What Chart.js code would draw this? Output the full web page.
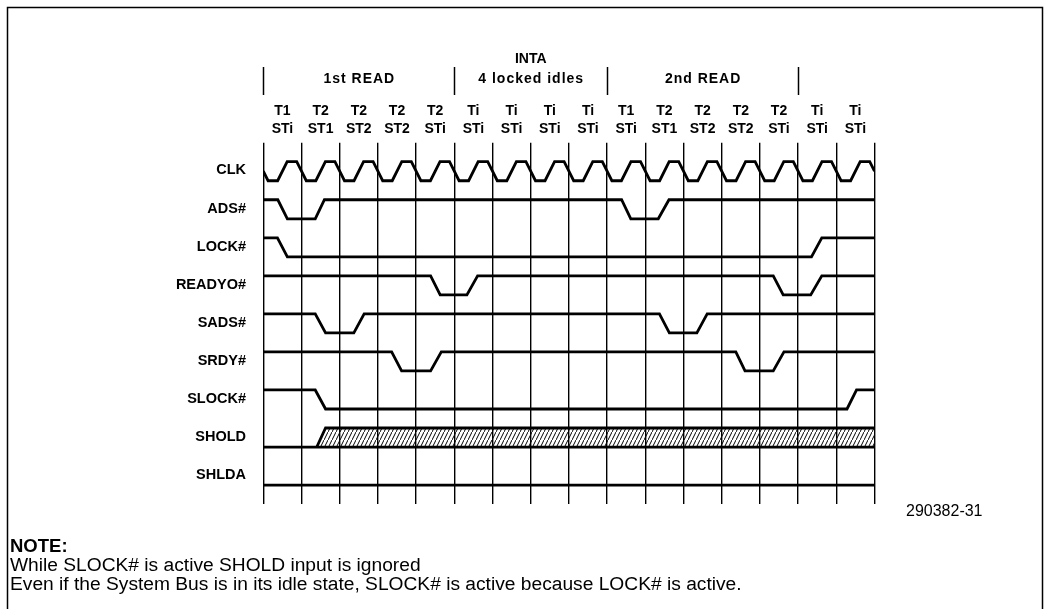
<!DOCTYPE html>
<html lang="en">
<head>
<meta charset="utf-8">
<title>SLOCK# timing</title>
<script src="https://cdn.jsdelivr.net/npm/chart.js"></script>
<style>
	body{ margin:0; background:#fff; }
	#wave{ display:block; }
</style>
</head>
<body>
<canvas id="wave" width="1044" height="609"></canvas>
<script>
// bus cycles along the top
const cycles = 16;
const cycleT  = ['T1','T2','T2','T2','T2','Ti','Ti','Ti','Ti','T1','T2','T2','T2','T2','Ti','Ti'];
const cycleST = ['STi','ST1','ST2','ST2','STi','STi','STi','STi','STi','STi','ST1','ST2','ST2','STi','STi','STi'];
const sectionNames = ['1st READ','4 locked idles','2nd READ'];
const sectionBounds = [0, 5, 9, 14];
const signalNames = ['CLK','ADS#','LOCK#','READYO#','SADS#','SRDY#','SLOCK#','SHOLD','SHLDA'];

// waveforms: [time in cycles, level 0/1]
const clkShape   = [[0,0.5],[0.125,0],[0.375,0],[0.625,1],[0.875,1]];
const adsWave    = [[0,1],[0.38,1],[0.63,0],[1.36,0],[1.6,1],[9.38,1],[9.62,0],[10.34,0],[10.62,1],[16,1]];
const lockWave   = [[0,1],[0.37,1],[0.63,0],[14.35,0],[14.62,1],[16,1]];
const readyoWave = [[0,1],[4.38,1],[4.63,0],[5.33,0],[5.61,1],[13.35,1],[13.61,0],[14.33,0],[14.62,1],[16,1]];
const sadsWave   = [[0,1],[1.36,1],[1.63,0],[2.37,0],[2.64,1],[10.37,1],[10.63,0],[11.35,0],[11.62,1],[16,1]];
const srdyWave   = [[0,1],[3.36,1],[3.62,0],[4.38,0],[4.66,1],[12.37,1],[12.61,0],[13.35,0],[13.63,1],[16,1]];
const slockWave  = [[0,1],[1.36,1],[1.63,0],[15.28,0],[15.53,1],[16,1]];
const sholdWave  = [[0,0],[16,0]];
const sholdFloat = [[1.4,0],[1.63,1],[16,1]];   // hatched: ignored
const shldaWave  = [[0,0],[16,0]];

const noteLines = ['While SLOCK# is active SHOLD input is ignored',
                   'Even if the System Bus is in its idle state, SLOCK# is active because LOCK# is active.'];

function rowLow(i){ return 8.5 - i; }
function toXY(pts, row){ return pts.map(p => ({x: p[0], y: rowLow(row) + p[1] * 0.5})); }

let clkPts = [];
for(let c = 0; c < cycles; c++){
	clkShape.forEach(p => clkPts.push([c + p[0], p[1]]));
}
clkPts.push([cycles, 0.5]);

// hatch pattern for SHOLD
const pc = document.createElement('canvas');
pc.width = 4; pc.height = 8;
const pctx = pc.getContext('2d');
pctx.strokeStyle = '#000'; pctx.lineWidth = 1;
pctx.beginPath(); pctx.moveTo(-1, 10); pctx.lineTo(5, -2); pctx.stroke();
const hatch = pctx.createPattern(pc, 'repeat');

const FONT = "'Liberation Sans', Arial, sans-serif";

const overlay = {
	id: 'overlay',
	beforeDraw(chart){
		const ctx = chart.ctx;
		ctx.save();
		ctx.fillStyle = '#fff';
		ctx.fillRect(0, 0, chart.width, chart.height);
		ctx.restore();
	},
	afterDraw(chart){
		const ctx = chart.ctx, xs = chart.scales.x, ys = chart.scales.y;
		ctx.save();
		ctx.strokeStyle = '#000'; ctx.fillStyle = '#000';
		// frame
		ctx.lineWidth = 1.5;
		ctx.strokeRect(7.5, 7.5, 1035, 640);
		// section markers
		sectionBounds.forEach(v => {
			const x = Math.round(xs.getPixelForValue(v)) + 0.5;
			ctx.beginPath(); ctx.moveTo(x, 67); ctx.lineTo(x, 95); ctx.stroke();
		});
		ctx.textBaseline = 'middle'; ctx.textAlign = 'center';
		ctx.font = 'bold 14px ' + FONT;
		ctx.letterSpacing = '1px';
		sectionNames.forEach((s, i) => {
			const x = xs.getPixelForValue((sectionBounds[i] + sectionBounds[i+1]) / 2);
			ctx.fillText(s, x + 0.5, 79);
		});
		ctx.letterSpacing = '0px';
		ctx.font = 'bold 14px ' + FONT;
		ctx.fillText('INTA', xs.getPixelForValue(7), 59);
		// cycle states
		ctx.font = 'bold 14px ' + FONT;
		cycleT.forEach((t, i) => {
			const x = xs.getPixelForValue(i + 0.5);
			ctx.fillText(t, x, 111);
			ctx.fillText(cycleST[i], x, 129);
		});
		// signal names
		ctx.textAlign = 'right';
		ctx.font = 'bold 14.5px ' + FONT;
		signalNames.forEach((n, i) => {
			ctx.fillText(n, 246, ys.getPixelForValue(rowLow(i) + 0.27));
		});
		// figure id
		ctx.textAlign = 'left';
		ctx.font = '16px ' + FONT;
		ctx.fillText('290382-31', 906, 512);
		// note
		ctx.font = 'bold 18.5px ' + FONT;
		ctx.fillText('NOTE:', 10, 547);
		ctx.font = '19.2px ' + FONT;
		noteLines.forEach((l, i) => ctx.fillText(l, 10, 566 + i * 19));
		ctx.restore();
	}
};

const series = [clkPts, adsWave, lockWave, readyoWave, sadsWave, srdyWave, slockWave, sholdWave];
let datasets = series.map((s, i) => ({
	label: signalNames[i],
	data: toXY(s, i),
	fill: false
}));
datasets.push({ label: 'SHOLD ignored', data: toXY(sholdFloat, 7), fill: '-1', backgroundColor: hatch });
datasets.push({ label: 'SHLDA', data: toXY(shldaWave, 8), fill: false });

new Chart(document.getElementById('wave'), {
	type: 'line',
	data: { datasets: datasets },
	options: {
		responsive: false,
		animation: false,
		devicePixelRatio: 1,
		layout: { autoPadding: false, padding: { left: 263.3, right: 169.5, top: 142.7, bottom: 104.9 } },
		plugins: { legend: { display: false }, tooltip: { enabled: false } },
		elements: {
			point: { radius: 0, hoverRadius: 0 },
			line: { tension: 0, borderWidth: 2.8, borderColor: '#000' }
		},
		scales: {
			x: { type: 'linear', min: 0, max: cycles,
				ticks: { stepSize: 1, display: false },
				grid: { color: '#000', lineWidth: 1.4, drawTicks: false },
				border: { display: false } },
			y: { type: 'linear', min: 0, max: 9.5, display: false }
		}
	},
	plugins: [overlay]
});
</script>
</body>
</html>
